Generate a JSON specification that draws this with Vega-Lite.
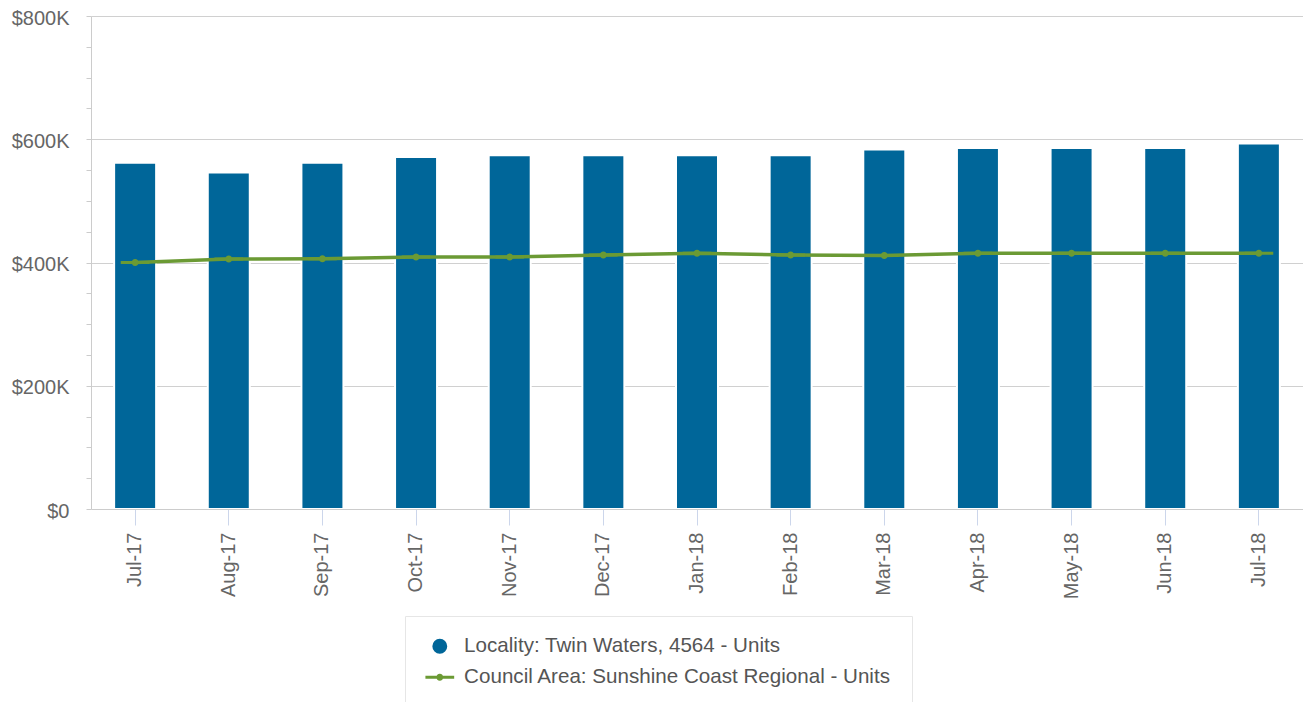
{
  "$schema": "https://vega.github.io/schema/vega-lite/v6.json",
  "autosize": {"type": "none"},
  "padding": {"left": 91, "top": 16, "right": 0, "bottom": 193},
  "width": 1212,
  "height": 493,
  "background": "white",
  "config": {
    "font": "Liberation Sans",
    "view": {"stroke": null}
  },
  "data": {
    "values": [
      {"month": "Jul-17", "series": "Locality: Twin Waters, 4564 - Units", "value": 562000},
      {"month": "Aug-17", "series": "Locality: Twin Waters, 4564 - Units", "value": 546000},
      {"month": "Sep-17", "series": "Locality: Twin Waters, 4564 - Units", "value": 562000},
      {"month": "Oct-17", "series": "Locality: Twin Waters, 4564 - Units", "value": 571000},
      {"month": "Nov-17", "series": "Locality: Twin Waters, 4564 - Units", "value": 574000},
      {"month": "Dec-17", "series": "Locality: Twin Waters, 4564 - Units", "value": 574000},
      {"month": "Jan-18", "series": "Locality: Twin Waters, 4564 - Units", "value": 574000},
      {"month": "Feb-18", "series": "Locality: Twin Waters, 4564 - Units", "value": 574000},
      {"month": "Mar-18", "series": "Locality: Twin Waters, 4564 - Units", "value": 583500},
      {"month": "Apr-18", "series": "Locality: Twin Waters, 4564 - Units", "value": 586000},
      {"month": "May-18", "series": "Locality: Twin Waters, 4564 - Units", "value": 586000},
      {"month": "Jun-18", "series": "Locality: Twin Waters, 4564 - Units", "value": 586000},
      {"month": "Jul-18", "series": "Locality: Twin Waters, 4564 - Units", "value": 593000},
      {"month": "Jul-17", "series": "Council Area: Sunshine Coast Regional - Units", "value": 400000},
      {"month": "Aug-17", "series": "Council Area: Sunshine Coast Regional - Units", "value": 405500},
      {"month": "Sep-17", "series": "Council Area: Sunshine Coast Regional - Units", "value": 406000},
      {"month": "Oct-17", "series": "Council Area: Sunshine Coast Regional - Units", "value": 409000},
      {"month": "Nov-17", "series": "Council Area: Sunshine Coast Regional - Units", "value": 409000},
      {"month": "Dec-17", "series": "Council Area: Sunshine Coast Regional - Units", "value": 412000},
      {"month": "Jan-18", "series": "Council Area: Sunshine Coast Regional - Units", "value": 415000},
      {"month": "Feb-18", "series": "Council Area: Sunshine Coast Regional - Units", "value": 412000},
      {"month": "Mar-18", "series": "Council Area: Sunshine Coast Regional - Units", "value": 411500},
      {"month": "Apr-18", "series": "Council Area: Sunshine Coast Regional - Units", "value": 415000},
      {"month": "May-18", "series": "Council Area: Sunshine Coast Regional - Units", "value": 415000},
      {"month": "Jun-18", "series": "Council Area: Sunshine Coast Regional - Units", "value": 415000},
      {"month": "Jul-18", "series": "Council Area: Sunshine Coast Regional - Units", "value": 415000}
    ]
  },
  "encoding": {
    "x": {
      "field": "month",
      "type": "ordinal",
      "sort": ["Jul-17", "Aug-17", "Sep-17", "Oct-17", "Nov-17", "Dec-17", "Jan-18", "Feb-18", "Mar-18", "Apr-18", "May-18", "Jun-18", "Jul-18"],
      "scale": {"paddingInner": 0.5515, "paddingOuter": 0.247},
      "axis": {
        "title": null,
        "zindex": 1,
        "labelAngle": -90,
        "labelFontSize": 20,
        "labelColor": "#666666",
        "labelPadding": 7,
        "tickSize": 16,
        "tickColor": "#ccd6eb",
        "domainColor": "#cccccc",
        "grid": false
      }
    },
    "y": {
      "field": "value",
      "type": "quantitative",
      "scale": {"domain": [0, 800000], "nice": false},
      "axis": {
        "title": null,
        "zindex": 0,
        "values": [0, 50000, 100000, 150000, 200000, 250000, 300000, 350000, 400000, 450000, 500000, 550000, 600000, 650000, 700000, 750000, 800000],
        "labelExpr": "datum.value === 0 ? '$0' : (datum.value % 200000 === 0 ? '$' + (datum.value / 1000) + 'K' : '')",
        "labelFontSize": 20,
        "labelColor": "#666666",
        "labelPadding": 17,
        "labelBaseline": "middle",
        "labelOffset": 2,
        "tickSize": 5,
        "tickColor": "#cccccc",
        "domainColor": "#cccccc",
        "grid": true,
        "gridColor": "#d0d0d0",
        "gridOpacity": {"condition": {"test": "datum.value % 200000 === 0 && datum.value > 0", "value": 1}, "value": 0}
      }
    }
  },
  "layer": [
    {
      "transform": [{"filter": "datum.series === 'Locality: Twin Waters, 4564 - Units'"}],
      "mark": {"type": "bar", "stroke": "white", "strokeWidth": 2, "opacity": 1, "fill": "#006699"}
    },
    {
      "transform": [{"filter": "datum.series === 'Council Area: Sunshine Coast Regional - Units'"}],
      "mark": {"type": "line", "strokeWidth": 3.5, "color": "#6b9a34"}
    },
    {
      "transform": [{"filter": "datum.series === 'Council Area: Sunshine Coast Regional - Units'"}],
      "mark": {"type": "point", "filled": true, "size": 222, "opacity": 1, "strokeWidth": 0},
      "encoding": {
        "color": {
          "field": "series",
          "type": "nominal",
          "scale": {
            "domain": ["Locality: Twin Waters, 4564 - Units", "Council Area: Sunshine Coast Regional - Units"],
            "range": ["#006699", "#6b9a34"]
          },
          "legend": {
            "title": null,
            "orient": "none",
            "legendX": 314,
            "legendY": 600,
            "direction": "vertical",
            "padding": 20,
            "strokeColor": "#e6e6e6",
            "fillColor": "white",
            "labelFontSize": 20.6,
            "labelColor": "#555555",
            "labelOffset": 14,
            "labelLimit": 1000,
            "symbolSize": 222,
            "symbolOffset": 4.5,
            "rowPadding": 10,
            "symbolOpacity": 1
          }
        },
        "shape": {
          "field": "series",
          "type": "nominal",
          "scale": {
            "domain": ["Locality: Twin Waters, 4564 - Units", "Council Area: Sunshine Coast Regional - Units"],
            "range": ["circle", "M-1.93,-0.2L1.93,-0.2L1.93,0.2L-1.93,0.2Z M-0.47,0A0.47,0.47 0 1,1 0.47,0A0.47,0.47 0 1,1 -0.47,0Z"]
          },
          "legend": {
            "title": null,
            "orient": "none",
            "legendX": 314,
            "legendY": 600,
            "direction": "vertical",
            "padding": 20,
            "strokeColor": "#e6e6e6",
            "fillColor": "white",
            "labelFontSize": 20.6,
            "labelColor": "#555555",
            "labelOffset": 14,
            "labelLimit": 1000,
            "symbolSize": 222,
            "symbolOffset": 4.5,
            "rowPadding": 10,
            "symbolOpacity": 1
          }
        }
      }
    }
  ]
}
